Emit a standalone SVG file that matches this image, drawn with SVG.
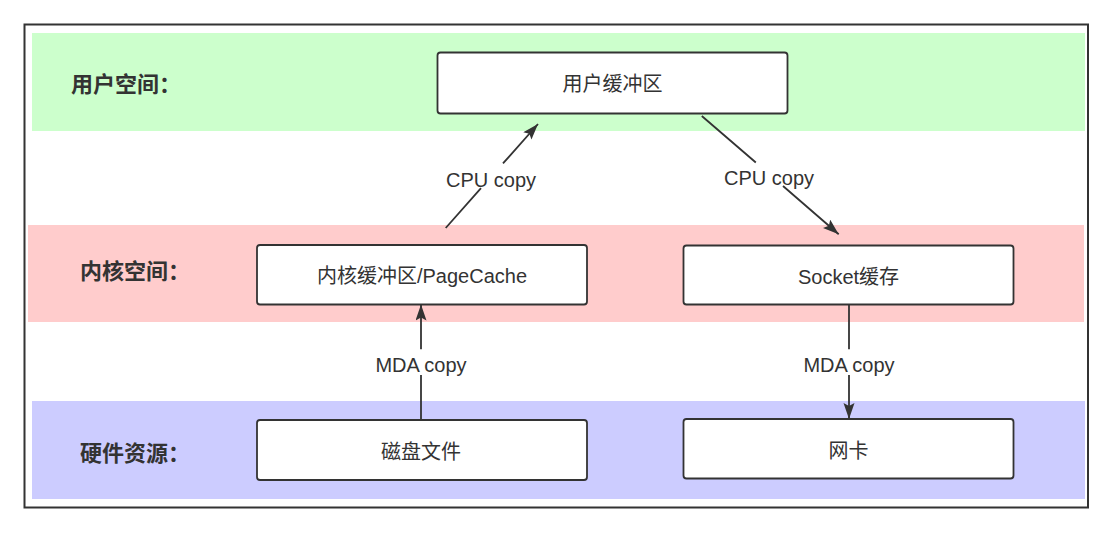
<svg xmlns="http://www.w3.org/2000/svg" width="1113" height="533" viewBox="0 0 1113 533">
<style>
.band{stroke:none}
.box{fill:#fff;stroke:#333;stroke-width:1.8}
.lbl{font-family:"Liberation Sans","Noto Sans CJK SC",sans-serif;font-size:22px;font-weight:bold;fill:#333;dominant-baseline:central}
.txt{font-family:"Liberation Sans","Noto Sans CJK SC",sans-serif;font-size:20px;fill:#333;text-anchor:middle;dominant-baseline:central}
.edge{fill:none;stroke:#333;stroke-width:1.8;marker-end:url(#arr)}
</style>
<defs>
<marker id="arr" markerUnits="userSpaceOnUse" markerWidth="18" markerHeight="12" refX="16" refY="5.5" orient="auto">
<path d="M0,0 L16,5.5 L0,11 L3,5.5 z" fill="#333"/>
</marker>
</defs>
<rect x="0" y="0" width="1113" height="533" fill="#fff"/>
<rect id="frame" x="24.5" y="24.5" width="1063.5" height="483" fill="none" stroke="#333" stroke-width="2"/>
<g id="band-user"><rect class="band" x="32" y="33" width="1053" height="98" fill="#ccffcc"/><text class="lbl" x="71" y="84">用户空间：</text></g>
<g id="band-kernel"><rect class="band" x="28" y="225" width="1056" height="97" fill="#ffcccc"/><text class="lbl" x="80" y="271">内核空间：</text></g>
<g id="band-hw"><rect class="band" x="32" y="401" width="1053" height="98" fill="#ccccff"/><text class="lbl" x="80" y="453">硬件资源：</text></g>
<g id="user-buf"><rect class="box" x="437.5" y="52.5" width="350" height="61" rx="3"/><text class="txt" x="612.5" y="84">用户缓冲区</text></g>
<g id="page-cache"><rect class="box" x="257" y="245" width="330" height="59.5" rx="3"/><text class="txt" x="422" y="276">内核缓冲区/PageCache</text></g>
<g id="socket-buf"><rect class="box" x="683.5" y="245.5" width="330" height="59" rx="3"/><text class="txt" x="848.5" y="277">Socket缓存</text></g>
<g id="disk"><rect class="box" x="257" y="420" width="330" height="60" rx="3"/><text class="txt" x="421" y="452">磁盘文件</text></g>
<g id="nic"><rect class="box" x="683.5" y="419" width="330" height="59.5" rx="3"/><text class="txt" x="848.5" y="451">网卡</text></g>
<g id="connectors">
<path class="edge" d="M445.7,228 L481,188.2 M503,163.4 L538,124"/>
<text class="txt" x="491" y="180">CPU copy</text>
<path class="edge" d="M701.8,116 L755.8,162.5 M783,186 L838.7,234.3"/>
<text class="txt" x="769" y="178">CPU copy</text>
<path class="edge" d="M421,420 L421,375 M421,349.3 L421,304.5"/>
<text class="txt" x="421" y="365">MDA copy</text>
<path class="edge" d="M849,304.5 L849,349.3 M849,375 L849,419"/>
<text class="txt" x="849" y="365">MDA copy</text>
</g>
</svg>
